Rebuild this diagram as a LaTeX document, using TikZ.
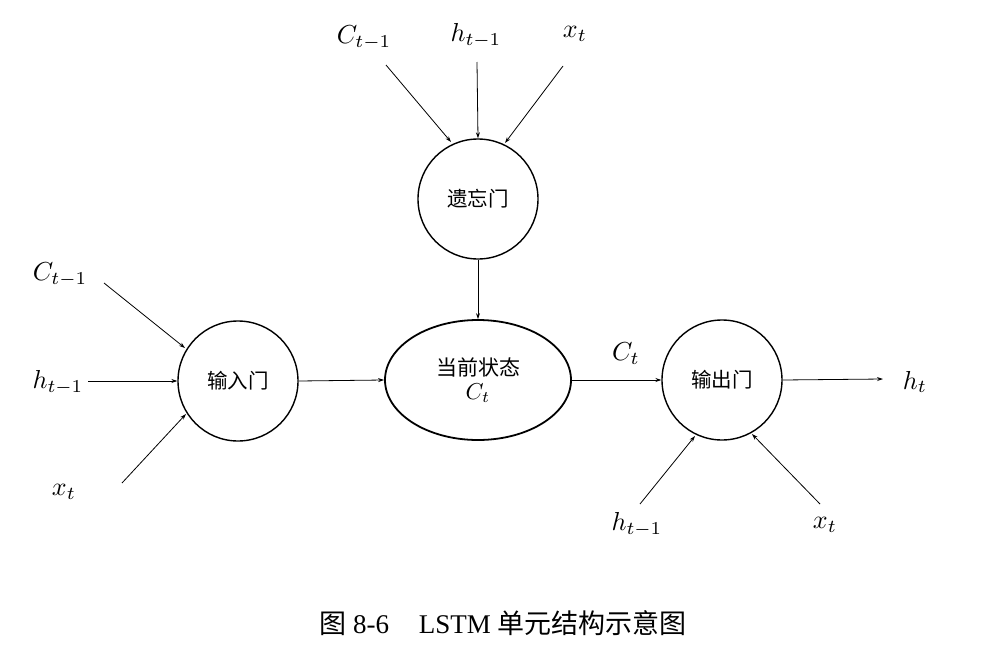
\documentclass[tikz,border=0pt]{standalone}
\usepackage{fontspec}
\setmainfont{Liberation Serif}
\newfontfamily\cjk{Noto Sans CJK SC}
\usetikzlibrary{arrows.meta,shapes.geometric}
\newcommand\mlbl[1]{{\fontsize{10}{12}\selectfont\scalebox{2.6}{$#1$}}}
\begin{document}
\begin{tikzpicture}[x=1pt,y=-1pt,
  gate/.style={circle,draw,line width=1.4pt,minimum size=120pt,inner sep=0pt,font=\cjk\fontsize{20.5}{22}\selectfont},
  state/.style={ellipse,draw,line width=1.8pt,minimum width=186pt,minimum height=120pt,inner sep=0pt,align=center,font=\cjk\fontsize{21}{24}\selectfont},
  lbl/.style={inner sep=0pt},
  arr/.style={line width=0.8pt,-{Stealth[length=6pt,width=4pt]}}]
\useasboundingbox (0,0) rectangle (997,653);
% nodes
\node[gate] (forget) at (478,199) {遗忘门};
\node[gate] (input) at (238,381) {输入门};
\node[state] (state) at (478,380) {当前状态\\[0pt]{\fontsize{10}{12}\selectfont\scalebox{2.3}{$C_t$}}};
\node[gate] (output) at (722,380) {输出门};
% labels
\node[lbl] (fc) at (364,38) {\mlbl{C_{t-1}}};
\node[lbl] (fh) at (476,36) {\mlbl{h_{t-1}}};
\node[lbl] (fx) at (575,34) {\mlbl{x_t}};
\node[lbl] (ic) at (60,275) {\mlbl{C_{t-1}}};
\node[lbl] (ih) at (58,383) {\mlbl{h_{t-1}}};
\node[lbl] (ix) at (64,492) {\mlbl{x_t}};
\node[lbl] (oh) at (637,525) {\mlbl{h_{t-1}}};
\node[lbl] (ox) at (825,525) {\mlbl{x_t}};
\node[lbl] (ht) at (915,382) {\mlbl{h_t}};
\node[lbl] (ct) at (626,354) {\mlbl{C_t}};
% free ends
\coordinate (a1) at (386,65);
\coordinate (a2) at (477,62);
\coordinate (a3) at (563,66);
\coordinate (b1) at (104,283);
\coordinate (b2) at (88,381);
\coordinate (b3) at (122,483);
\coordinate (c1) at (640,504);
\coordinate (c2) at (820,504);
\coordinate (d1) at (883,379);
% connectors
\draw[arr] (a1) -- (451,142);
\draw[arr] (a2) -- (forget.north);
\draw[arr] (a3) -- (505,143);
\draw[arr] (forget.south) -- (state.north);
\draw[arr] (b1) -- (185,348);
\draw[arr] (b2) -- (input.west);
\draw[arr] (b3) -- (186,414);
\draw[arr] (input.east) -- (state.west);
\draw[arr] (state.east) -- (output.west);
\draw[arr] (output.east) -- (d1);
\draw[arr] (c1) -- (695,436);
\draw[arr] (c2) -- (752,434);
% caption
\node[inner sep=0pt,font=\fontsize{27}{30}\selectfont] (cap) at (503,623) {{\cjk 图} 8-6\hspace{1.1em}LSTM {\cjk 单元结构示意图}};
\end{tikzpicture}
\end{document}
